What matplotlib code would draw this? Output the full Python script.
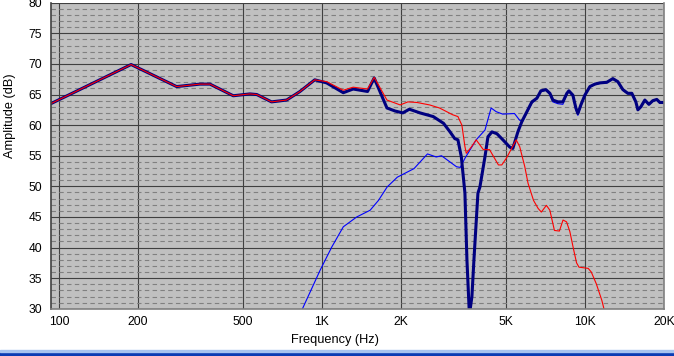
import matplotlib
matplotlib.use("Agg")
import matplotlib.pyplot as plt
from matplotlib.ticker import FixedLocator, NullLocator, MultipleLocator
from matplotlib.patches import Rectangle

# summed response (thick navy)
total_freq = [93, 188, 280, 343, 375, 460, 532, 565, 643, 734, 825, 939, 1042, 1205, 1314,
              1491, 1580, 1767, 1900, 2030, 2150, 2360, 2650, 2900, 3070, 3200, 3290, 3390,
              3498, 3560, 3638, 3719, 3785, 3920, 3989, 4168, 4279, 4431, 4629, 4878, 5185,
              5323, 5562, 5761, 6019, 6288, 6570, 6804, 7108, 7362, 7557, 7895, 8248, 8543,
              8694, 9004, 9243, 9406, 9656, 10000, 10450, 10910, 11400, 12120, 12780, 13350,
              13950, 14570, 15090, 15630, 15910, 16330, 16910, 17520, 18140, 18780, 19290, 20000]
total_db = [63.5, 69.9, 66.3, 66.7, 66.7, 64.8, 65.1, 65.0, 63.8, 64.1, 65.5, 67.4, 66.9, 65.3, 65.9,
            65.5, 67.7, 62.8, 62.3, 62.0, 62.6, 62.0, 61.4, 60.3, 58.9, 57.8, 57.6, 54.8,
            48.9, 38.0, 29.0, 32.0, 38.0, 48.9, 49.9, 54.8, 58.1, 58.9, 58.6, 57.6, 56.4,
            56.2, 58.9, 60.6, 62.2, 63.8, 64.4, 65.6, 65.8, 65.2, 64.1, 63.8, 63.8, 65.2,
            65.6, 64.9, 62.8, 61.9, 63.3, 64.9, 66.3, 66.7, 66.9, 67.0, 67.6, 67.1,
            65.8, 65.2, 65.2, 63.8, 62.5, 63.0, 64.1, 63.4, 64.0, 64.2, 63.7, 63.7]

# woofer (thin red)
woofer_freq = [93, 188, 280, 343, 375, 460, 532, 565, 643, 734, 825, 939, 1042, 1205, 1314,
               1491, 1580, 1767, 1984, 2123, 2300, 2568, 2800, 3140, 3290, 3406, 3498, 3540,
               3710, 3860, 4110, 4340, 4690, 4830, 5030, 5480, 5650, 5910, 6080, 6380, 6640,
               6830, 7140, 7360, 7660, 8000, 8260, 8520, 8770, 9070, 9300, 9500, 10300, 10580,
               11050, 11600, 11900]
woofer_db = [63.5, 69.9, 66.3, 66.7, 66.7, 64.8, 65.1, 65.0, 63.8, 64.1, 65.5, 67.4, 67.1, 65.7, 66.2,
             65.9, 67.8, 64.1, 63.3, 63.8, 63.7, 63.3, 62.8, 61.7, 61.4, 60.0, 56.5, 55.4,
             56.5, 57.6, 56.0, 56.0, 53.5, 53.5, 54.6, 57.6, 56.5, 53.2, 50.5, 47.7, 46.4,
             45.8, 46.9, 46.1, 42.8, 42.7, 44.5, 44.2, 42.6, 39.6, 37.5, 36.8, 36.6, 36.0,
             34.1, 31.4, 29.5]

# tweeter (thin blue)
tweeter_freq = [843, 984, 1090, 1206, 1356, 1525, 1640, 1770, 1935, 2240, 2520, 2720, 2850,
                3250, 3360, 3500, 3860, 4170, 4400, 4600, 4870, 5400, 5650, 5800,
                6019, 6288, 6570, 6804, 7108, 7362, 7557, 7895, 8248, 8543, 8694, 9004, 9243,
                9406, 9656, 10000, 10450, 10910, 11400, 12120, 12780, 13350, 13950, 14570,
                15090, 15630, 15910, 16330, 16910, 17520, 18140, 18780, 19290, 20000]
tweeter_db = [30.0, 36.3, 40.1, 43.4, 45.0, 46.1, 47.7, 49.9, 51.5, 52.9, 55.3, 54.8, 55.0,
              53.2, 53.1, 54.6, 57.6, 59.2, 62.8, 62.2, 61.8, 61.9, 60.8, 60.6,
              62.0, 63.6, 64.3, 65.5, 65.7, 65.0, 63.8, 63.5, 63.4, 65.0, 65.5, 64.7, 62.5,
              61.6, 63.1, 64.8, 66.2, 66.6, 66.8, 66.9, 67.5, 67.0, 65.7, 65.1,
              65.1, 63.7, 62.4, 62.9, 64.0, 63.3, 63.9, 64.1, 63.6, 63.6]

x_ticks = [100, 200, 500, 1000, 2000, 5000, 10000, 20000]
x_labels = ["100", "200", "500", "1K", "2K", "5K", "10K", "20K"]
y_ticks = list(range(30, 81, 5))

plt.rcParams['font.family'] = ['Liberation Sans', 'DejaVu Sans']

W, H = 674, 356
fig = plt.figure(figsize=(W / 100, H / 100), dpi=100)
fig.patch.set_facecolor("white")
ax = fig.add_axes([51 / W, 1 - 308.8 / H, 613 / W, 306.1 / H])
ax.set_facecolor("#c0c0c0")

ax.set_xscale("log")
ax.set_xlim(93.2, 20000)
ax.set_ylim(30, 80)

# grid
ax.xaxis.set_major_locator(FixedLocator(x_ticks))
ax.xaxis.set_minor_locator(NullLocator())
ax.set_xticklabels(x_labels)
ax.set_yticks(y_ticks)
ax.yaxis.set_minor_locator(MultipleLocator(1))
ax.grid(which="major", color="#404040", lw=0.8, ls="-")
ax.grid(which="minor", axis="y", color="#808080", lw=0.8, ls=(0, (4, 3)))
ax.set_axisbelow(True)
ax.tick_params(which="both", length=0, labelsize=8.7, colors="black")
ax.tick_params(axis="y", pad=6.5)
ax.tick_params(axis="x", pad=5)

ax.spines["top"].set_visible(False)
ax.spines["left"].set_color("#404040")
ax.spines["bottom"].set_color("#808080")
ax.spines["right"].set_color("#808080")
for s in ["left", "bottom", "right"]:
    ax.spines[s].set_linewidth(1.2)

ax.plot(tweeter_freq, tweeter_db, color="#0000ff", lw=0.8)
ax.plot(total_freq, total_db, color="#000080", lw=2.2)
ax.plot(woofer_freq, woofer_db, color="#ff0000", lw=0.8)

fig.text(335 / W, 1 - 340 / H, "Frequency (Hz)", ha="center", va="center", fontsize=9.2)
fig.text(10 / W, 1 - 116 / H, "Amplitude (dB)", ha="center", va="center",
         rotation=90, fontsize=9.2)

# window title bar strip at the bottom
fig.patches.append(Rectangle((0, 0), 1, 4.5 / H, transform=fig.transFigure,
                             color="#0a3cb4", zorder=5))
fig.patches.append(Rectangle((0, 4.5 / H), 1, 1.2 / H, transform=fig.transFigure,
                             color="#a6c4f0", zorder=5))

fig.savefig("out.png", dpi=100)
